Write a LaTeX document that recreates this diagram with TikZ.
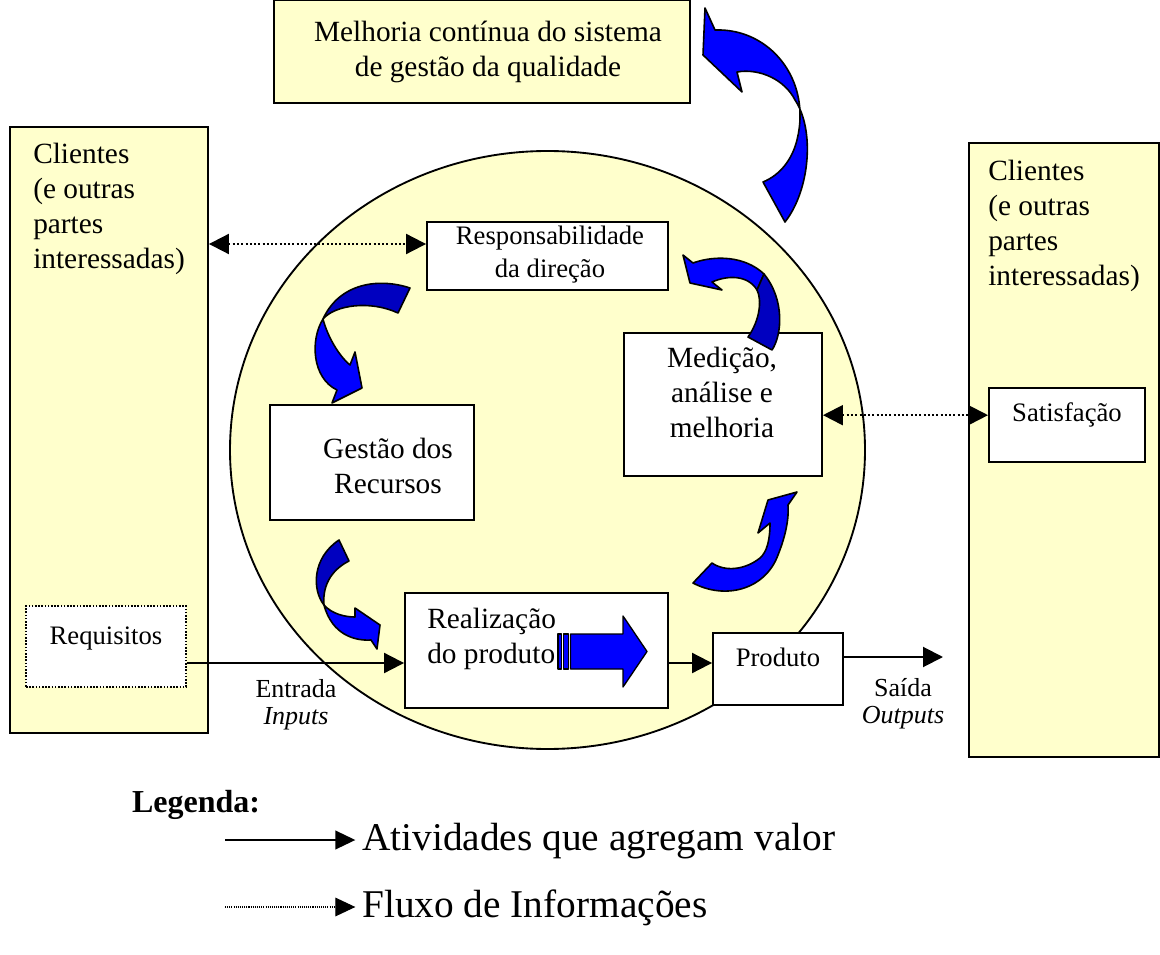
\documentclass[tikz,border=0pt]{standalone}
\usepackage{fontspec}
\setmainfont{Liberation Serif}
\usetikzlibrary{arrows.meta,shapes.geometric}
\definecolor{ylw}{RGB}{255,255,204}
\definecolor{arrblue}{RGB}{0,0,255}
\definecolor{arrdark}{RGB}{0,0,192}
\tikzset{
  ybox/.style={draw=black, fill=ylw, line width=1.4pt, inner sep=0pt},
  wbox/.style={draw=black, fill=white, line width=1.4pt, inner sep=0pt},
  dbox/.style={draw=black, fill=white, line width=1.2pt, dash pattern=on 1.2pt off 1.2pt, inner sep=0pt},
  txt/.style={inner sep=0pt, align=center},
  ltxt/.style={inner sep=0pt, align=left},
  fmain/.style={font=\fontsize{22}{26.25}\selectfont},
  fsmall/.style={font=\fontsize{20}{24.75}\selectfont},
  flab/.style={font=\fontsize{19.5}{20.5}\selectfont},
  fleg/.style={font=\fontsize{29.5}{34}\selectfont},
  valarrow/.style={line width=1.5pt, -{Triangle[length=15pt,width=15pt]}},
  infoarrow/.style={line width=1.5pt, dash pattern=on 1.5pt off 1.7pt,
     {Triangle[length=15pt,width=15pt]}-{Triangle[length=15pt,width=15pt]}},
  legsolid/.style={line width=1.5pt, -{Triangle[length=15pt,width=14pt]}},
  legdot/.style={line width=0.8pt, dash pattern=on 0.8pt off 0.8pt, -{Triangle[length=15pt,width=14pt]}},
  bright/.style={fill=arrblue, draw=black, line width=1.2pt, line join=round},
  dark/.style={fill=arrdark, draw=black, line width=1.2pt, line join=round},
}
\begin{document}
\begin{tikzpicture}[x=0.75pt,y=-0.75pt]
\useasboundingbox (0,0) rectangle (1160,955);

% big ellipse
\node[draw=black, fill=ylw, line width=1.4pt, ellipse, inner sep=0pt,
      minimum width=476.25pt, minimum height=448.5pt] (circ) at (547.5,450) {};

% top box
\node[ybox, minimum width=312pt, minimum height=76.9pt] (top) at (482,51.75) {};
\node[txt, fmain] (tTop) at (488,52) {Melhoria contínua do sistema\\de gestão da qualidade};

% left and right customer boxes
\node[ybox, minimum width=148.5pt, minimum height=454.5pt] (lbox) at (109,430) {};
\node[ltxt, fmain, anchor=north west] (tL) at (33,143) {Clientes\\(e outras\\partes\\interessadas)};
\node[ybox, minimum width=142.5pt, minimum height=460.5pt] (rbox) at (1064,450) {};
\node[ltxt, fmain, anchor=north west] (tR) at (988,160) {Clientes\\(e outras\\partes\\interessadas)};

% inner boxes
\node[wbox, minimum width=180.75pt, minimum height=51pt] (resp) at (547.5,256) {};
\node[txt, fsmall] (tResp) at (550,255) {Responsabilidade\\da direção};

\node[wbox, minimum width=148.5pt, minimum height=107.25pt] (med) at (723,404.5) {};
\node[txt, fmain] (tMed) at (722,392) {Medição,\\análise e\\melhoria};

\node[wbox, minimum width=153pt, minimum height=86.25pt] (gest) at (372,462.5) {};
\node[txt, fmain] (tGest) at (388,466) {Gestão dos\\Recursos};

\node[wbox, minimum width=197.25pt, minimum height=86.25pt] (real) at (536.5,650.5) {};
\node[ltxt, fmain, anchor=west] (tReal) at (427,639) {Realização\\do produto};

\node[dbox, minimum width=120pt, minimum height=60.75pt] (req) at (106,646.5) {};
\node[txt, fsmall] (tReq) at (106,639) {Requisitos};

\node[wbox, minimum width=97.5pt, minimum height=54pt] (prod) at (778,669) {};
\node[txt, fsmall] (tProd) at (778,657) {Produto};

\node[wbox, minimum width=117pt, minimum height=55.5pt] (sat) at (1067,425) {};
\node[txt, fsmall] (tSat) at (1067,415) {Satisfação};

% striped arrow inside Realizacao
\filldraw[bright, line width=1pt] (558,634) rectangle (561.5,669);
\filldraw[bright, line width=1pt] (563.5,634) rectangle (568.5,669);
\filldraw[bright, line width=1pt] (570.5,634) -- (623,634) -- (623,616) -- (647,651.5)
   -- (623,687) -- (623,669) -- (570.5,669) -- cycle;

% connectors
\coordinate (r1) at ([yshift=9pt]resp.west);
\draw[infoarrow] (lbox.east |- r1) -- (r1);
\coordinate (m1) at ([yshift=-8pt]med.east);
\draw[infoarrow] (m1) -- (sat.west |- m1);
\coordinate (ln1) at (0,663);
\draw[valarrow] (req.east |- ln1) -- (real.west |- ln1);
\draw[valarrow] (real.east |- ln1) -- (prod.west |- ln1);
\coordinate (outEnd) at (943,657);
\draw[valarrow] (prod.east |- outEnd) -- (outEnd);

\node[txt, flab] (tIn) at (296,705) {Entrada\\\textit{Inputs}};
\node[txt, flab] (tOut) at (903,704) {Saída\\\textit{Outputs}};

% curved arrow A (top)
\filldraw[bright] (705,8) -- (715,30) .. controls (770,28) and (812,80) .. (797,140)
  .. controls (792,160) and (780,175) .. (763,182) -- (785,222)
  .. controls (810,190) and (815,130) .. (795,100)
  .. controls (785,80) and (760,68) .. (737,72) -- (742,92) -- (703,55) -- cycle;

% curved arrow B (resp -> gestao)
\filldraw[dark] (410,288) .. controls (380,278) and (340,282) .. (323,319)
  .. controls (335,305) and (370,300) .. (398,313) -- cycle;
\filldraw[bright] (323,319) .. controls (310,340) and (312,378) .. (337,390)
  -- (332,403) -- (362,388) -- (355,352) -- (350,365)
  .. controls (338,355) and (327,335) .. (323,319) -- cycle;

% curved arrow C (medicao -> resp)
\filldraw[bright] (693,263) -- (683,255) -- (690,283) -- (722,290) -- (712,282)
  .. controls (728,275) and (748,275) .. (757,290) -- (764,274)
  .. controls (745,256) and (715,255) .. (693,263) -- cycle;
\filldraw[dark] (764,274) .. controls (785,300) and (782,335) .. (772,350) -- (748,337)
  .. controls (760,320) and (762,300) .. (757,290) -- cycle;

% curved arrow D (gestao -> realizacao)
\filldraw[dark] (339,540) -- (349,561) .. controls (335,568) and (322,582) .. (324,605)
  .. controls (312,590) and (312,558) .. (339,540) -- cycle;
\filldraw[bright] (324,605) .. controls (332,614) and (345,617) .. (355,617)
  -- (355,608) -- (380,625) -- (377,649) -- (371,640)
  .. controls (355,641) and (332,635) .. (324,605) -- cycle;

% curved arrow E (realizacao -> medicao)
\filldraw[bright] (693,583) .. controls (725,600) and (765,590) .. (778,555)
  .. controls (786,535) and (789,518) .. (788,505) -- (797,492) -- (768,500) -- (758,533)
  -- (770,523) .. controls (770,540) and (767,552) .. (760,558)
  .. controls (745,570) and (725,572) .. (712,563) -- cycle;

% legend
\node[inner sep=0pt, font=\fontsize{24}{28}\selectfont\bfseries] (leg) at (196,805) {Legenda:};
\node[inner sep=0pt, fleg, anchor=west] (leg1) at (362,841) {Atividades que agregam valor};
\node[inner sep=0pt, fleg, anchor=west] (leg2) at (362,908) {Fluxo de Informações};
\coordinate (lg1) at (225,840);
\coordinate (lg2) at (225,907);
\coordinate (lt1) at ([xshift=-5pt]leg1.west);
\coordinate (lt2) at ([xshift=-5pt]leg2.west);
\draw[legsolid] (lg1) -- (lg1 -| lt1);
\draw[legdot] (lg2) -- (lg2 -| lt2);
\end{tikzpicture}
\end{document}
